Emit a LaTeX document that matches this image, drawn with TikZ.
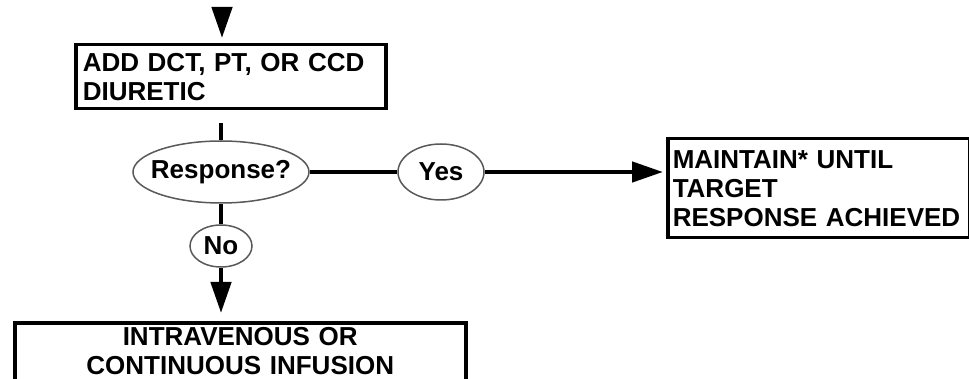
\documentclass[tikz,border=0pt]{standalone}
\usepackage{fontspec}
\setmainfont{Liberation Sans}
\usepackage{tikz}
\usetikzlibrary{calc,shapes.geometric,arrows.meta}
\newcommand{\flow}{\fontsize{26}{29}\selectfont\bfseries}
\newcommand{\lw}{3.5pt}
\newcommand{\cw}{4.5pt}
\tikzstyle{box}=[rectangle, line width=\lw, draw=black, inner sep=0pt, font=\flow, anchor=north west]
\tikzstyle{ask}=[ellipse, line width=1.5pt, draw=black!65, fill=white, inner sep=0pt, font=\flow]
\tikzstyle{link}=[line width=\cw, black]
\tikzstyle{flowarrow}=[link, -{Triangle[length=31pt,width=20pt]}]

\begin{document}
\begin{tikzpicture}[x=1pt, y=-1pt]
        \clip (0,0) rectangle (969,379);
        \coordinate (in) at (222,8);
        \node[box, minimum width=310pt, minimum height=64pt, text width=296pt, align=left] (add) at (74,43) {ADD DCT, PT, OR CCD\\DIURETIC};
        \node[ask, minimum width=176pt, minimum height=62pt] (resp) at (221,172) {\makebox[0pt]{Response?}};
        \node[ask, minimum width=86pt, minimum height=56pt] (yes) at (441,172) {\makebox[0pt]{Yes}};
        \node[ask, minimum width=62pt, minimum height=42pt] (no) at (221,246) {\makebox[0pt]{No}};
        \node[box, minimum width=302pt, minimum height=99pt, text width=292pt, align=left] (keep) at (666,137) {MAINTAIN* UNTIL\\TARGET\\RESPONSE ACHIEVED};
        \node[box, inner sep=5pt, minimum width=451pt, text width=440pt, text depth=40pt, align=center] (iv) at (13,321) {INTRAVENOUS OR\\CONTINUOUS INFUSION};

        \draw[flowarrow, shorten >=5pt] (in) -- (in |- add.north);
        \draw[link, shorten <=13pt] (resp |- add.south) -- (resp);
        \draw[link] (resp) -- (yes);
        \draw[flowarrow, shorten >=3pt] (yes) -- (yes -| keep.west);
        \draw[link] (resp) -- (no);
        \draw[flowarrow, shorten >=8pt] (no) -- (no |- iv.north);
\end{tikzpicture}
\end{document}
